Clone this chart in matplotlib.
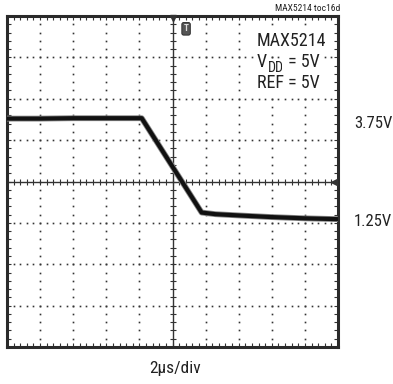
import matplotlib
matplotlib.use('Agg')
import matplotlib.pyplot as plt
import numpy as np

# trace (divisions: x 0..10, y 0..8)
trace_x = [0.0, 1.0, 2.0, 3.0, 4.07, 5.88, 6.3, 7.0, 8.0, 9.0, 10.0]
trace_y = [5.52, 5.52, 5.53, 5.53, 5.53, 3.25, 3.21, 3.18, 3.14, 3.11, 3.09]

chip_name = 'MAX5214'
vdd_parts = ['V', 'DD', ' = 5V']
ref_line = 'REF = 5V'
level_labels = ['3.75V', '1.25V']
level_px = [124, 222]
timebase = '2\u03bcs/div'
toc_label = 'MAX5214 toc16d'

W, H = 393, 384
FONT = ['Roboto Condensed', 'DejaVu Sans']
plt.rcParams['font.family'] = FONT
TXT = '#222222'

fig = plt.figure(figsize=(W / 100, H / 100), dpi=100)
ax = fig.add_axes([7 / W, (H - 347) / H, 331 / W, 331 / H])
ax.set_xlim(0, 10)
ax.set_ylim(0, 8)

grid_c = '#333333'
# dotted graticule
sub_x = np.arange(0, 10.01, 0.2)
sub_y = np.arange(0, 8.01, 0.2)
for gy in range(1, 8):
    if gy == 4:
        continue
    ax.plot(sub_x, np.full_like(sub_x, gy), ls='none', marker='s', ms=1.2, color=grid_c, mew=0)
for gx in range(1, 10):
    if gx == 5:
        continue
    ax.plot(np.full_like(sub_y, gx), sub_y, ls='none', marker='s', ms=1.2, color=grid_c, mew=0)

# centre cross with small tick marks
ax.axhline(4, color=grid_c, lw=1.0)
ax.axvline(5, color=grid_c, lw=1.0)
ax.plot(sub_x, np.full_like(sub_x, 4), ls='none', marker='|', ms=5, mew=0.8, color=grid_c)
ax.plot(np.full_like(sub_y, 5), sub_y, ls='none', marker='_', ms=5, mew=0.8, color=grid_c)

# frame ticks
ax.set_xticks([])
ax.set_yticks([])
ax.set_xticks(sub_x, minor=True)
ax.set_yticks(sub_y, minor=True)
ax.tick_params(which='minor', direction='in', length=3, width=0.8, color=grid_c,
               top=True, right=True, labelbottom=False, labelleft=False)
for s in ax.spines.values():
    s.set_linewidth(2.2)
    s.set_color('#2a2a2a')

# trace: grey halo + dark core
ax.plot(trace_x, trace_y, color='#888888', lw=4.2, solid_capstyle='butt', zorder=5)
ax.plot(trace_x, trace_y, color='#111111', lw=3.0, solid_capstyle='butt', zorder=6)

# trigger markers
ax.plot([5], [7.95], marker='v', ms=5, color=grid_c, clip_on=False, zorder=7)
ax.text(5.41, 7.69, 'T', fontsize=6.5, color='#dddddd', ha='center', va='center', fontweight='bold',
        bbox=dict(boxstyle='round,pad=0.2', fc='#555555', ec='#222222', lw=0.6), zorder=7)
ax.plot([9.88], [4], marker='<', ms=5, color=grid_c, zorder=7)

# label block inside the screen (white backing hides the graticule dots)
box = dict(fc='white', ec='none', pad=1.5)
fig.text(257 / W, 1 - 46 / H, chip_name, fontsize=13, color=TXT, ha='left', va='baseline', bbox=box)
t_v = fig.text(257 / W, 1 - 67 / H, vdd_parts[0], fontsize=13, color=TXT, ha='left', va='baseline', bbox=box)
t_dd = ax.annotate(vdd_parts[1], xy=(1, 0), xycoords=t_v, xytext=(0.5, -3), textcoords='offset points',
                   fontsize=10, color=TXT, ha='left', va='bottom', bbox=box, annotation_clip=False)
ax.annotate(vdd_parts[2], xy=(1, 0), xycoords=(t_dd, t_v), xytext=(0, 0), textcoords='offset points',
            fontsize=13, color=TXT, ha='left', va='bottom', bbox=box, annotation_clip=False)
fig.text(257 / W, 1 - 88 / H, ref_line, fontsize=13, color=TXT, ha='left', va='baseline', bbox=box)

for lab, py in zip(level_labels, level_px):
    fig.text(354 / W, 1 - py / H, lab, fontsize=12, color=TXT, ha='left', va='center')
fig.text(175 / W, 1 - 369 / H, timebase, fontsize=12.5, color=TXT, ha='center', va='center')
fig.text(340 / W, 1 - 8.5 / H, toc_label, fontsize=6.8, color=TXT, ha='right', va='center')

fig.savefig('out.png', dpi=100)
